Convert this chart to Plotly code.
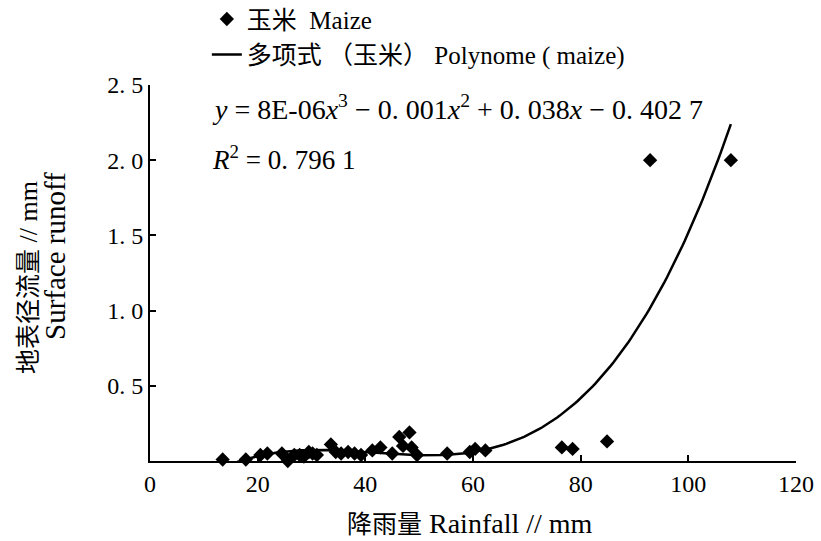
import numpy as np
import plotly.graph_objects as go

# Rainfall (mm) and surface runoff (mm) for maize plots
rainfall = [13.5, 17.8, 20.5, 21.8, 24.5, 25.6, 26.8, 27.8, 28.6, 29.5, 30.2, 31.0,
            33.6, 34.5, 35.5, 36.8, 38.0, 39.2, 41.3, 42.8, 45.0, 46.3, 47.0, 48.2,
            48.6, 49.6, 55.2, 59.4, 60.4, 62.3, 76.5, 78.5, 84.9, 92.9, 107.9]
runoff = [0.01, 0.01, 0.04, 0.05, 0.05, 0.00, 0.04, 0.04, 0.03, 0.06, 0.05, 0.04,
          0.11, 0.06, 0.05, 0.06, 0.05, 0.04, 0.07, 0.09, 0.05, 0.16, 0.10, 0.19,
          0.09, 0.04, 0.05, 0.06, 0.08, 0.07, 0.09, 0.08, 0.13, 2.00, 2.00]

x_ticks = [0, 20, 40, 60, 80, 100, 120]
x_ticklabels = ["0", "20", "40", "60", "80", "100", "120"]
y_ticks = [0.5, 1.0, 1.5, 2.0, 2.5]
y_ticklabels = ["0. 5", "1. 0", "1. 5", "2. 0", "2. 5"]

# cubic trendline fitted to the data (as the spreadsheet trendline)
coef = np.polyfit(rainfall, runoff, 3)
xs = np.linspace(min(rainfall), max(rainfall), 200)
ys = np.polyval(coef, xs)

SERIF = "Liberation Serif, Noto Sans CJK SC"


def cjk(s, size):
    return '<span style="font-size:%dpx">%s</span>' % (size, s)


fig = go.Figure()
fig.add_trace(go.Scatter(
    x=rainfall, y=runoff, mode="markers",
    name=cjk("玉米", 25) + "  Maize",
    marker=dict(symbol="diamond", size=11, color="black"), cliponaxis=False))
fig.add_trace(go.Scatter(
    x=xs, y=ys, mode="lines",
    name=cjk("多项式 （玉米）", 25) + " Polynome ( maize)",
    line=dict(color="black", width=2.5)))

fig.update_layout(
    width=821, height=541,
    margin=dict(l=150, r=25, t=85, b=80, autoexpand=False),
    paper_bgcolor="white", plot_bgcolor="white",
    font=dict(family=SERIF, size=22, color="black"),
    showlegend=True,
    legend=dict(x=0.088, y=1.236, xanchor="left", yanchor="top",
                font=dict(size=25, family=SERIF), tracegroupgap=0,
                itemwidth=30, bgcolor="rgba(0,0,0,0)"),
    xaxis=dict(range=[0, 120], tickvals=x_ticks, ticktext=x_ticklabels,
               showline=True, linecolor="black", linewidth=2,
               ticks="inside", ticklen=6, tickwidth=2, tickcolor="black",
               showgrid=False, zeroline=False,
               tickfont=dict(size=24, family=SERIF)),
    yaxis=dict(range=[0, 2.5], tickvals=y_ticks, ticktext=y_ticklabels,
               showline=True, linecolor="black", linewidth=2,
               ticks="inside", ticklen=6, tickwidth=2, tickcolor="black",
               showgrid=False, zeroline=False,
               tickfont=dict(size=24, family=SERIF)),
)

fig.add_annotation(
    xref="paper", yref="paper", x=0.093, y=0.941, xanchor="left", yanchor="middle",
    text="<i>y</i> = 8E-06<i>x</i><sup>3</sup> − 0. 001<i>x</i><sup>2</sup> + 0. 038<i>x</i> − 0. 402 7",
    showarrow=False, font=dict(size=28, family=SERIF))
fig.add_annotation(
    xref="paper", yref="paper", x=0.093, y=0.806, xanchor="left", yanchor="middle",
    text="<i>R</i><sup>2</sup> = 0. 796 1",
    showarrow=False, font=dict(size=27, family=SERIF))
fig.add_annotation(
    xref="paper", yref="paper", x=0.495, y=-0.165, xanchor="center", yanchor="middle",
    text=cjk("降雨量", 25) + " Rainfall // mm", showarrow=False,
    font=dict(size=28, family=SERIF))
fig.add_annotation(
    xref="paper", yref="paper", x=(28 - 150) / 646, y=(461 - 278) / 376,
    xanchor="center", yanchor="middle",
    text=cjk("地表径流量", 25) + " // mm", textangle=-90,
    showarrow=False, font=dict(size=26, family=SERIF))
fig.add_annotation(
    xref="paper", yref="paper", x=(55 - 150) / 646, y=(461 - 256) / 376,
    xanchor="center", yanchor="middle",
    text="Surface runoff", textangle=-90,
    showarrow=False, font=dict(size=29, family=SERIF))

fig.write_html("out.html", config={"displayModeBar": False},
               post_script="document.body.style.margin='0';document.body.style.padding='0';")
